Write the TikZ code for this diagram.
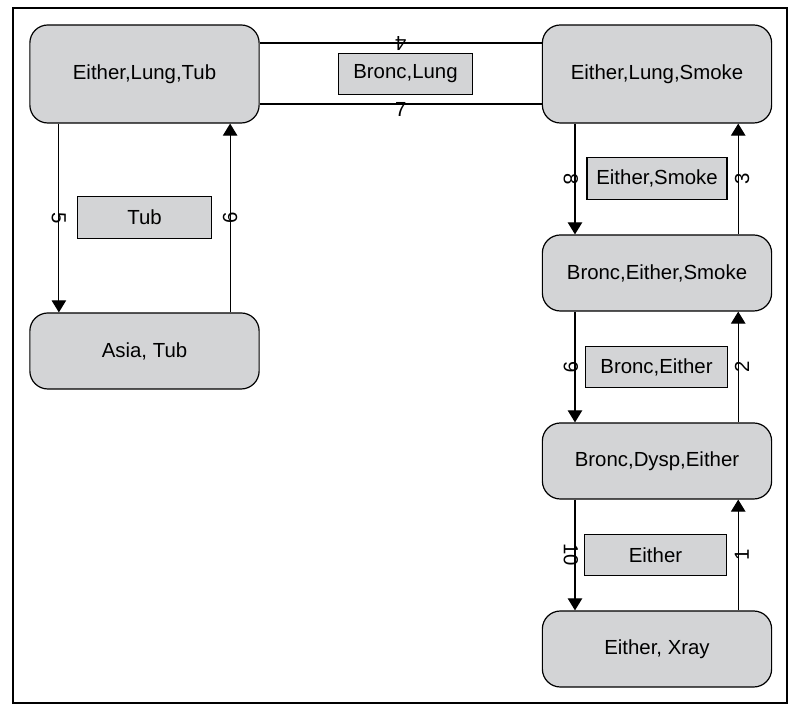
\documentclass[tikz,border=0pt]{standalone}
\usepackage{fontspec}
\setmainfont{Liberation Sans}
\usetikzlibrary{arrows.meta}
\definecolor{cellgray}{RGB}{211,212,214}

\begin{document}
\begin{tikzpicture}[x=0.025cm,y=-0.025cm,
    font=\fontsize{14.5}{17}\selectfont,
    clique/.style={draw,fill=cellgray,rounded corners=0.45cm,line width=0.85pt,
      minimum width=5.73cm,minimum height=1.9cm,inner sep=0pt},
    sepset/.style={draw,fill=cellgray,line width=0.85pt,minimum height=1.03cm,inner sep=0pt},
    link/.style={line width=0.85pt},
    msg/.style={line width=0.85pt,-{Triangle[length=0.3cm,width=0.36cm]}},
    num/.style={midway,sloped,allow upside down,inner sep=0pt}]
  \useasboundingbox (0,0) rectangle (798,720);
  \draw[line width=0.85pt] (13,8) rectangle (787,703);
  % cliques
  \node[clique,minimum height=2.45cm] (elt) at (144.5,74) {Either,Lung,Tub};
  \node[clique,minimum height=2.45cm] (els) at (657,74) {Either,Lung,Smoke};
  \node[clique] (at) at (144.5,351) {Asia, Tub};
  \node[clique] (bes) at (657,273) {Bronc,Either,Smoke};
  \node[clique] (bde) at (657,461) {Bronc,Dysp,Either};
  \node[clique] (ex) at (657,649) {Either, Xray};
  % separators
  \node[sepset,minimum width=3.33cm] (sbl) at (405.5,74) {Bronc,Lung};
  \node[sepset,minimum width=3.33cm] (st) at (144.5,217.5) {Tub};
  \node[sepset,minimum width=3.5cm] (ses) at (657,178.5) {Either,Smoke};
  \node[sepset,minimum width=3.53cm] (sbe) at (656.5,367) {Bronc,Either};
  \node[sepset,minimum width=3.53cm] (se) at (655.5,555) {Either};
  % messages
  \draw[link] ([yshift=0.775cm]els.west) -- ([yshift=0.775cm]elt.east) node[num,below=-5.8pt]{4};
  \draw[link] ([yshift=-0.75cm]elt.east) -- ([yshift=-0.75cm]els.west) node[num,below=-1.5pt]{7};
  \draw[msg] ([xshift=-2.14cm]elt.south) -- ([xshift=-2.14cm]at.north) node[num]{5};
  \draw[msg] ([xshift=2.14cm]at.north) -- ([xshift=2.14cm]elt.south) node[num]{6};
  \foreach \a/\b/\down/\up in {els/bes/8/3, bes/bde/9/2, bde/ex/10/1} {
    \draw[msg] ([xshift=-2.05cm]\a.south) -- ([xshift=-2.05cm]\b.north) node[num,below=-2.6pt]{\down};
    \draw[msg] ([xshift=2.03cm]\b.north) -- ([xshift=2.03cm]\a.south) node[num,below=-2.8pt]{\up};
  }
\end{tikzpicture}
\end{document}
